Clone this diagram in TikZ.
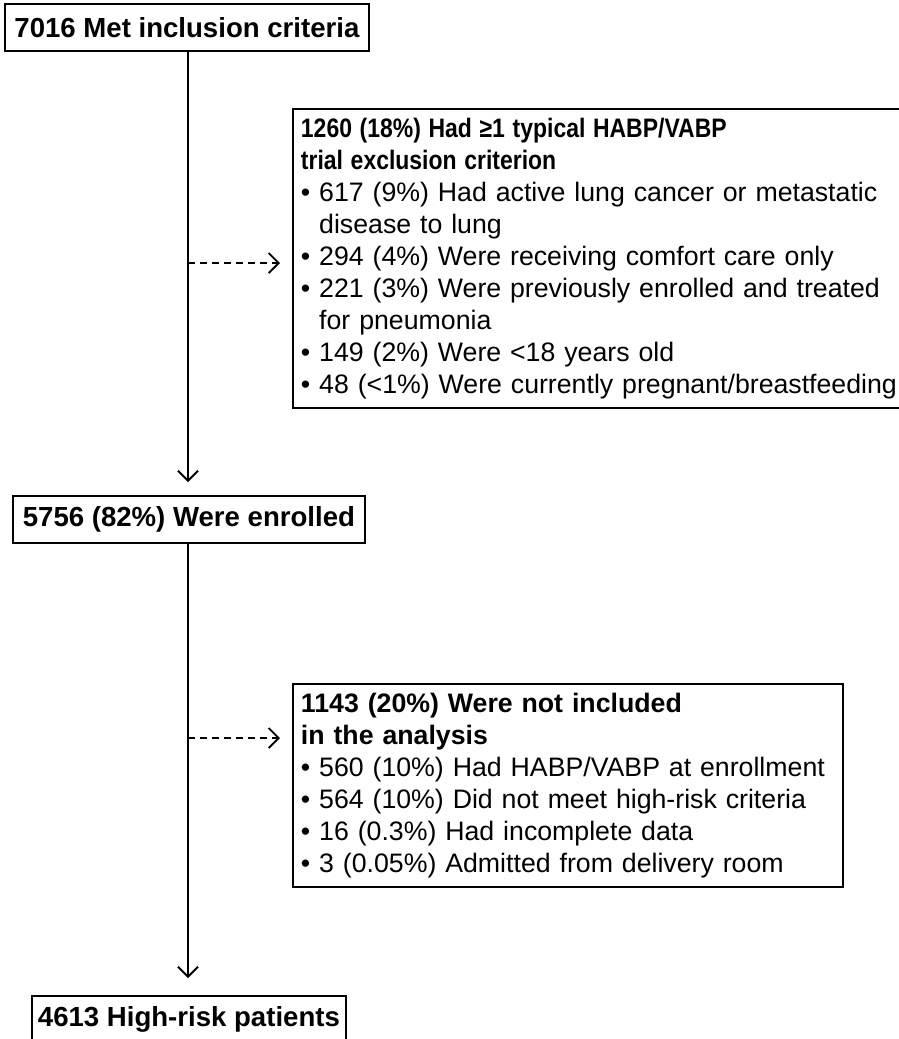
\documentclass[tikz,border=0pt]{standalone}
\usepackage{fontspec}
\usepackage{graphicx}
\setmainfont{Liberation Sans}
\usetikzlibrary{positioning, arrows.meta, calc}

\begin{document}
\begin{tikzpicture}[
    x=0.02cm, y=-0.02cm,
    stage/.style={
        rectangle,
        draw=black,
        line width=1.1pt,
        anchor=north west,
        minimum height=0.94cm,
        font=\fontsize{15.7}{18}\selectfont\bfseries
    },
    excl/.style={
        rectangle,
        draw=black,
        line width=1.1pt,
        anchor=north west,
        align=left,
        inner xsep=0.16cm,
        inner ysep=0.18cm,
        font=\fontsize{15.2}{18.2}\selectfont
    },
    arrow/.style={-{Straight Barb[length=0.2cm, width=0.4cm]}, line width=1.1pt},
    dasharrow/.style={arrow, dash pattern=on 0.14cm off 0.1cm, shorten >=0.24cm}
]
\useasboundingbox (0,0) rectangle (899,1039);

% Main stages
\node[stage, minimum width=7.28cm] (incl) at (4,3) {7016 Met inclusion criteria};
\node[stage, minimum width=7.04cm] (enrl) at (12,495) {5756 (82\%) Were enrolled};
\node[stage, minimum width=6.28cm] (hrisk) at (31,995) {4613 High-risk patients};

% Exclusions
\node[excl, text width=12.2cm] (exclA) at (292,108) {%
    \scalebox{0.86}[1]{\textbf{1260 (18\%) Had ≥1 typical HABP/VABP}}\\
    \scalebox{0.86}[1]{\textbf{trial exclusion criterion}}\\
    • 617 (9\%) Had active lung cancer or metastatic\\
    \phantom{• }disease to lung\\
    • 294 (4\%) Were receiving comfort care only\\
    • 221 (3\%) Were previously enrolled and treated\\
    \phantom{• }for pneumonia\\
    • 149 (2\%) Were <18 years old\\
    • 48 (<1\%) Were currently pregnant/breastfeeding};
\node[excl, text width=10.68cm] (exclB) at (292,683) {%
    \textbf{1143 (20\%) Were not included}\\
    \textbf{in the analysis}\\
    • 560 (10\%) Had HABP/VABP at enrollment\\
    • 564 (10\%) Did not meet high-risk criteria\\
    • 16 (0.3\%) Had incomplete data\\
    • 3 (0.05\%) Admitted from delivery room};

% Flow arrows
\coordinate (tipA) at (188,482);
\coordinate (tipB) at (188,978);
\coordinate (brA) at (188,263);
\coordinate (brB) at (188,738);
\draw[arrow] (incl.south -| tipA) -- (tipA);
\draw[arrow] (enrl.south -| tipB) -- (tipB);
\draw[dasharrow] (brA) -- (brA -| exclA.west);
\draw[dasharrow] (brB) -- (brB -| exclB.west);

\end{tikzpicture}
\end{document}
